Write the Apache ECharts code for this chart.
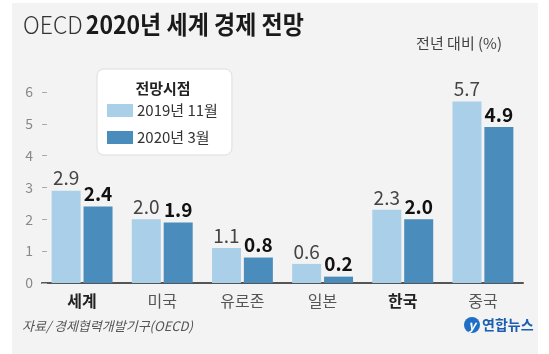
<!DOCTYPE html>
<html>
<head>
<meta charset="utf-8">
<style>
  html, body { margin: 0; padding: 0; background: #fff; }
  #chart { width: 549px; height: 354px; }
</style>
<script src="https://cdn.jsdelivr.net/npm/echarts@6/dist/echarts.min.js"></script>
</head>
<body>
<div id="chart"></div>
<script>
// OECD growth outlook for 2020, by region (% change year on year)
const categories = ['세계', '미국', '유로존', '일본', '한국', '중국'];
const boldCategories = ['세계', '한국'];
const seriesNames = ['2019년 11월', '2020년 3월'];
const outlookNov2019 = [2.9, 2.0, 1.1, 0.6, 2.3, 5.7];
const outlookMar2020 = [2.4, 1.9, 0.8, 0.2, 2.0, 4.9];
const yTicks = [0, 1, 2, 3, 4, 5, 6];

const FONT = '"Noto Sans CJK KR", "Noto Sans", sans-serif';
const LIGHT = '#a9cfe9';
const DARK = '#4a8cbb';

const chart = echarts.init(document.getElementById('chart'));

chart.setOption({
  backgroundColor: '#f3f3f3',
  textStyle: { fontFamily: FONT },
  animation: false,
  grid: { left: 42, right: 26, top: 92, bottom: 71 },
  legend: {
    data: seriesNames,
    orient: 'vertical',
    left: 97,
    top: 69,
    padding: [34, 14, 10, 10],
    itemWidth: 26,
    itemHeight: 13,
    itemGap: 12,
    backgroundColor: '#ffffff',
    borderColor: '#dddddd',
    borderWidth: 1,
    borderRadius: 7,
    icon: 'rect',
    textStyle: { fontFamily: FONT, fontSize: 15, color: '#333', padding: [0, 0, 0, -1] }
  },
  xAxis: {
    type: 'category',
    data: categories,
    axisLine: { lineStyle: { color: '#555', width: 2 } },
    axisTick: { show: false },
    axisLabel: {
      margin: 10,
      formatter: v => boldCategories.includes(v) ? '{b|' + v + '}' : '{n|' + v + '}',
      rich: {
        b: { fontFamily: FONT, fontSize: 16, fontWeight: 'bold', color: '#222' },
        n: { fontFamily: FONT, fontSize: 16, color: '#555' }
      }
    }
  },
  yAxis: {
    type: 'value',
    min: yTicks[0],
    max: yTicks[yTicks.length - 1],
    interval: 1,
    splitLine: { show: false },
    axisLine: { show: false },
    axisTick: { show: true, inside: true, length: 5, lineStyle: { color: '#aaa' } },
    axisLabel: { margin: 9, fontSize: 14, color: '#888', fontFamily: FONT,
      formatter: v => yTicks.includes(v) ? String(v) : '' }
  },
  series: [
    {
      name: seriesNames[0],
      type: 'bar',
      data: outlookNov2019,
      barWidth: 29,
      barGap: '10%',
      itemStyle: { color: LIGHT },
      label: {
        show: true, position: 'top', distance: 3,
        formatter: p => p.value.toFixed(1),
        fontFamily: FONT, fontSize: 19, color: '#444', fontWeight: 'normal'
      }
    },
    {
      name: seriesNames[1],
      type: 'bar',
      data: outlookMar2020,
      barWidth: 29,
      itemStyle: { color: DARK },
      label: {
        show: true, position: 'top', distance: 3,
        formatter: p => p.value.toFixed(1),
        fontFamily: FONT, fontSize: 19, color: '#111', fontWeight: 'bold'
      }
    }
  ],
  graphic: [
    // white margins around the grey panel
    { type: 'rect', silent: true, shape: { x: 0, y: 0, width: 12, height: 354 }, style: { fill: '#fff' } },
    { type: 'rect', silent: true, shape: { x: 0, y: 0, width: 549, height: 3 }, style: { fill: '#fff' } },
    { type: 'rect', silent: true, shape: { x: 538, y: 0, width: 11, height: 354 }, style: { fill: '#fff' } },
    // headline
    {
      type: 'text', x: 23, y: 12, scaleX: 0.92,
      style: {
        text: '{l|OECD} {b|2020년 세계 경제 전망}',
        rich: {
          l: { fontFamily: FONT, fontSize: 25, fontWeight: 300, fill: '#333' },
          b: { fontFamily: FONT, fontSize: 25, fontWeight: 'bold', fill: '#1a1a1a' }
        }
      }
    },
    {
      type: 'text', right: 47, top: 36,
      style: { text: '전년 대비 (%)', font: '15px ' + FONT, fill: '#444' }
    },
    // legend heading
    {
      type: 'text', z: 100, x: 163, y: 88,
      style: { text: '전망시점', font: 'bold 15px ' + FONT, fill: '#222', align: 'center', verticalAlign: 'middle' }
    },
    // source line
    {
      type: 'text', x: 22, y: 326,
      style: { text: '자료/ 경제협력개발기구(OECD)', font: 'italic 13px ' + FONT, fill: '#555', verticalAlign: 'middle' }
    },
    // agency mark
    { type: 'circle', shape: { cx: 472, cy: 325, r: 8 }, style: { fill: '#1f6fc4' } },
    {
      type: 'text', x: 472, y: 325,
      style: { text: 'y', font: 'italic bold 13px ' + FONT, fill: '#fff', align: 'center', verticalAlign: 'middle' }
    },
    {
      type: 'text', x: 482, y: 325,
      style: { text: '연합뉴스', font: 'bold 14px ' + FONT, fill: '#1b5db0', verticalAlign: 'middle' }
    }
  ]
});
</script>
</body>
</html>
